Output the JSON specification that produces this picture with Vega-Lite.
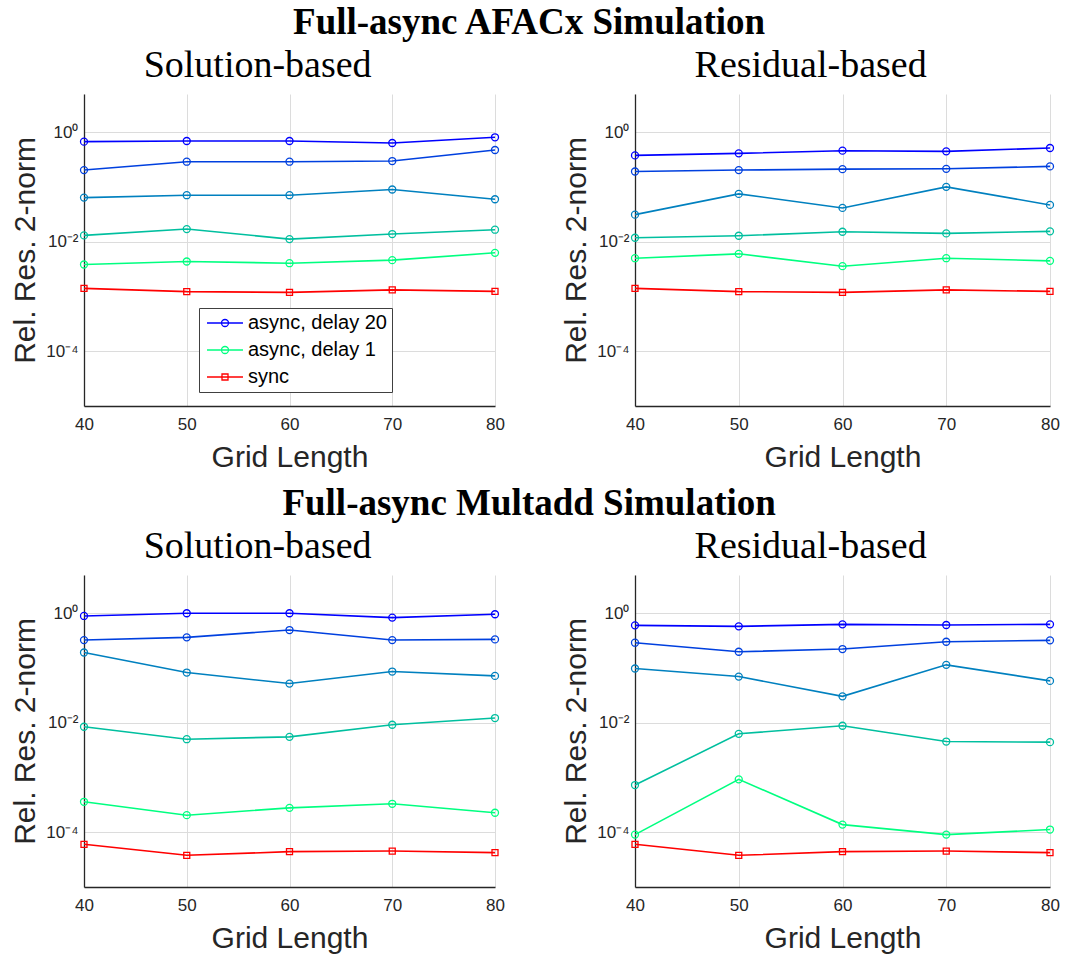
{
"$schema": "https://vega.github.io/schema/vega-lite/v6.json",
"padding": {"left": 10, "top": 4, "right": 5, "bottom": 5},
"datasets": {
"d": [
{"p":"AS","s":"async, delay 20","g":40,"v":0.674},{"p":"AS","s":"async, delay 20","g":50,"v":0.693},{"p":"AS","s":"async, delay 20","g":60,"v":0.693},{"p":"AS","s":"async, delay 20","g":70,"v":0.637},{"p":"AS","s":"async, delay 20","g":80,"v":0.81},
{"p":"AS","s":"async, delay 10","g":40,"v":0.204},{"p":"AS","s":"async, delay 10","g":50,"v":0.29},{"p":"AS","s":"async, delay 10","g":60,"v":0.29},{"p":"AS","s":"async, delay 10","g":70,"v":0.298},{"p":"AS","s":"async, delay 10","g":80,"v":0.474},
{"p":"AS","s":"async, delay 5","g":40,"v":0.0641},{"p":"AS","s":"async, delay 5","g":50,"v":0.0708},{"p":"AS","s":"async, delay 5","g":60,"v":0.0708},{"p":"AS","s":"async, delay 5","g":70,"v":0.09},{"p":"AS","s":"async, delay 5","g":80,"v":0.0598},
{"p":"AS","s":"async, delay 2","g":40,"v":0.01306},{"p":"AS","s":"async, delay 2","g":50,"v":0.01706},{"p":"AS","s":"async, delay 2","g":60,"v":0.01119},{"p":"AS","s":"async, delay 2","g":70,"v":0.01383},{"p":"AS","s":"async, delay 2","g":80,"v":0.0166},
{"p":"AS","s":"async, delay 1","g":40,"v":0.00384},{"p":"AS","s":"async, delay 1","g":50,"v":0.00436},{"p":"AS","s":"async, delay 1","g":60,"v":0.00406},{"p":"AS","s":"async, delay 1","g":70,"v":0.00461},{"p":"AS","s":"async, delay 1","g":80,"v":0.00628},
{"p":"AS","s":"sync","g":40,"v":0.00141},{"p":"AS","s":"sync","g":50,"v":0.00123},{"p":"AS","s":"sync","g":60,"v":0.00119},{"p":"AS","s":"sync","g":70,"v":0.00132},{"p":"AS","s":"sync","g":80,"v":0.00124},
{"p":"AR","s":"async, delay 20","g":40,"v":0.378},{"p":"AR","s":"async, delay 20","g":50,"v":0.412},{"p":"AR","s":"async, delay 20","g":60,"v":0.461},{"p":"AR","s":"async, delay 20","g":70,"v":0.448},{"p":"AR","s":"async, delay 20","g":80,"v":0.516},
{"p":"AR","s":"async, delay 10","g":40,"v":0.192},{"p":"AR","s":"async, delay 10","g":50,"v":0.204},{"p":"AR","s":"async, delay 10","g":60,"v":0.212},{"p":"AR","s":"async, delay 10","g":70,"v":0.215},{"p":"AR","s":"async, delay 10","g":80,"v":0.238},
{"p":"AR","s":"async, delay 5","g":40,"v":0.0313},{"p":"AR","s":"async, delay 5","g":50,"v":0.0749},{"p":"AR","s":"async, delay 5","g":60,"v":0.0415},{"p":"AR","s":"async, delay 5","g":70,"v":0.1007},{"p":"AR","s":"async, delay 5","g":80,"v":0.0471},
{"p":"AR","s":"async, delay 2","g":40,"v":0.01184},{"p":"AR","s":"async, delay 2","g":50,"v":0.01288},{"p":"AR","s":"async, delay 2","g":60,"v":0.01525},{"p":"AR","s":"async, delay 2","g":70,"v":0.01422},{"p":"AR","s":"async, delay 2","g":80,"v":0.01548},
{"p":"AR","s":"async, delay 1","g":40,"v":0.00501},{"p":"AR","s":"async, delay 1","g":50,"v":0.00602},{"p":"AR","s":"async, delay 1","g":60,"v":0.00358},{"p":"AR","s":"async, delay 1","g":70,"v":0.00501},{"p":"AR","s":"async, delay 1","g":80,"v":0.00448},
{"p":"AR","s":"sync","g":40,"v":0.00141},{"p":"AR","s":"sync","g":50,"v":0.00123},{"p":"AR","s":"sync","g":60,"v":0.00119},{"p":"AR","s":"sync","g":70,"v":0.00132},{"p":"AR","s":"sync","g":80,"v":0.00124},
{"p":"MS","s":"async, delay 20","g":40,"v":0.893},{"p":"MS","s":"async, delay 20","g":50,"v":1.0},{"p":"MS","s":"async, delay 20","g":60,"v":1.0},{"p":"MS","s":"async, delay 20","g":70,"v":0.833},{"p":"MS","s":"async, delay 20","g":80,"v":0.959},
{"p":"MS","s":"async, delay 10","g":40,"v":0.324},{"p":"MS","s":"async, delay 10","g":50,"v":0.363},{"p":"MS","s":"async, delay 10","g":60,"v":0.494},{"p":"MS","s":"async, delay 10","g":70,"v":0.324},{"p":"MS","s":"async, delay 10","g":80,"v":0.333},
{"p":"MS","s":"async, delay 5","g":40,"v":0.192},{"p":"MS","s":"async, delay 5","g":50,"v":0.0827},{"p":"MS","s":"async, delay 5","g":60,"v":0.052},{"p":"MS","s":"async, delay 5","g":70,"v":0.0862},{"p":"MS","s":"async, delay 5","g":80,"v":0.0718},
{"p":"MS","s":"async, delay 2","g":40,"v":0.00845},{"p":"MS","s":"async, delay 2","g":50,"v":0.00501},{"p":"MS","s":"async, delay 2","g":60,"v":0.00553},{"p":"MS","s":"async, delay 2","g":70,"v":0.00919},{"p":"MS","s":"async, delay 2","g":80,"v":0.01219},
{"p":"MS","s":"async, delay 1","g":40,"v":0.00036},{"p":"MS","s":"async, delay 1","g":50,"v":0.000205},{"p":"MS","s":"async, delay 1","g":60,"v":0.000279},{"p":"MS","s":"async, delay 1","g":70,"v":0.000331},{"p":"MS","s":"async, delay 1","g":80,"v":0.000227},
{"p":"MS","s":"sync","g":40,"v":0.0000603},{"p":"MS","s":"sync","g":50,"v":0.0000379},{"p":"MS","s":"sync","g":60,"v":0.0000442},{"p":"MS","s":"sync","g":70,"v":0.0000454},{"p":"MS","s":"sync","g":80,"v":0.0000424},
{"p":"MR","s":"async, delay 20","g":40,"v":0.602},{"p":"MR","s":"async, delay 20","g":50,"v":0.577},{"p":"MR","s":"async, delay 20","g":60,"v":0.628},{"p":"MR","s":"async, delay 20","g":70,"v":0.611},{"p":"MR","s":"async, delay 20","g":80,"v":0.628},
{"p":"MR","s":"async, delay 10","g":40,"v":0.29},{"p":"MR","s":"async, delay 10","g":50,"v":0.198},{"p":"MR","s":"async, delay 10","g":60,"v":0.222},{"p":"MR","s":"async, delay 10","g":70,"v":0.302},{"p":"MR","s":"async, delay 10","g":80,"v":0.32},
{"p":"MR","s":"async, delay 5","g":40,"v":0.0979},{"p":"MR","s":"async, delay 5","g":50,"v":0.0698},{"p":"MR","s":"async, delay 5","g":60,"v":0.0304},{"p":"MR","s":"async, delay 5","g":70,"v":0.1143},{"p":"MR","s":"async, delay 5","g":80,"v":0.0582},
{"p":"MR","s":"async, delay 2","g":40,"v":0.000728},{"p":"MR","s":"async, delay 2","g":50,"v":0.00628},{"p":"MR","s":"async, delay 2","g":60,"v":0.00881},{"p":"MR","s":"async, delay 2","g":70,"v":0.00454},{"p":"MR","s":"async, delay 2","g":80,"v":0.00442},
{"p":"MR","s":"async, delay 1","g":40,"v":0.0000906},{"p":"MR","s":"async, delay 1","g":50,"v":0.000925},{"p":"MR","s":"async, delay 1","g":60,"v":0.000138},{"p":"MR","s":"async, delay 1","g":70,"v":0.0000906},{"p":"MR","s":"async, delay 1","g":80,"v":0.000112},
{"p":"MR","s":"sync","g":40,"v":0.0000603},{"p":"MR","s":"sync","g":50,"v":0.0000379},{"p":"MR","s":"sync","g":60,"v":0.0000442},{"p":"MR","s":"sync","g":70,"v":0.0000454},{"p":"MR","s":"sync","g":80,"v":0.0000424}
]
},
"data": {"name": "d"},
"spacing": 13,
"resolve": {"legend": {"color": "independent"}},
"vconcat": [
{
"title": {"text": "Full-async AFACx Simulation", "fontSize": 37, "fontWeight": "bold", "offset": 5, "anchor": "middle", "dx": -6},
"spacing": 56,
"resolve": {"legend": {"color": "independent"}},
"hconcat": [
{
"width": 411, "height": 312,
"title": {"text": "Solution-based"},
"transform": [{"filter": "datum.p == 'AS'"}],
"encoding": {
"x": {"field": "g", "type": "quantitative", "scale": {"domain": [40, 80], "nice": false, "zero": false}, "axis": {"values": [40, 50, 60, 70, 80], "title": "Grid Length"}},
"y": {"field": "v", "type": "quantitative", "scale": {"type": "log", "domain": [0.00001, 5], "nice": false}, "axis": {"values": [0.0001, 0.01, 1], "labelExpr": "datum.value > 0.5 ? '10⁰' : datum.value > 0.001 ? '10⁻²' : '10⁻⁴'", "title": "Rel. Res. 2-norm"}},
"color": {"field": "s", "type": "nominal", "scale": {"domain": ["async, delay 20", "async, delay 10", "async, delay 5", "async, delay 2", "async, delay 1", "sync"], "range": ["#0000FF", "#0040DF", "#0080BF", "#00BF9F", "#00FF80", "#FF0000"]}, "legend": null}
},
"layer": [
{"mark": {"type": "line", "strokeWidth": 1.6}, "encoding": {"color": {"field": "s", "type": "nominal", "legend": {"title": null, "orient": "none", "legendX": 115, "legendY": 214, "values": ["async, delay 20", "async, delay 1", "sync"], "symbolType": "M-2.57,0L2.57,0M-0.5,0A0.5,0.5,0,1,0,0.5,0A0.5,0.5,0,1,0,-0.5,0", "symbolSize": 196, "symbolOffset": 11, "symbolStrokeWidth": 1.3, "symbolFillColor": "transparent", "labelFont": "Liberation Sans", "labelFontSize": 20, "labelColor": "#000000", "labelOffset": 13, "rowPadding": 7, "padding": 5, "strokeColor": "#404040", "fillColor": "#ffffff", "encode": {"symbols": {"update": {"shape": {"signal": "datum.value == 'sync' ? 'M-2.57,0L2.57,0M-0.43,-0.43L0.43,-0.43L0.43,0.43L-0.43,0.43Z' : 'M-2.57,0L2.57,0M-0.5,0A0.5,0.5,0,1,0,0.5,0A0.5,0.5,0,1,0,-0.5,0'"}}}}}}}},
{"transform": [{"filter": "datum.s != 'sync'"}], "mark": {"type": "point", "shape": "circle", "filled": false, "size": 49, "strokeWidth": 1.3, "opacity": 1}, "encoding": {}},
{"transform": [{"filter": "datum.s == 'sync'"}], "mark": {"type": "point", "shape": "square", "filled": false, "size": 36, "strokeWidth": 1.3, "opacity": 1}, "encoding": {}}
]
},
{
"width": 415, "height": 312,
"title": {"text": "Residual-based"},
"transform": [{"filter": "datum.p == 'AR'"}],
"encoding": {
"x": {"field": "g", "type": "quantitative", "scale": {"domain": [40, 80], "nice": false, "zero": false}, "axis": {"values": [40, 50, 60, 70, 80], "title": "Grid Length"}},
"y": {"field": "v", "type": "quantitative", "scale": {"type": "log", "domain": [0.00001, 5], "nice": false}, "axis": {"values": [0.0001, 0.01, 1], "labelExpr": "datum.value > 0.5 ? '10⁰' : datum.value > 0.001 ? '10⁻²' : '10⁻⁴'", "title": "Rel. Res. 2-norm"}},
"color": {"field": "s", "type": "nominal", "scale": {"domain": ["async, delay 20", "async, delay 10", "async, delay 5", "async, delay 2", "async, delay 1", "sync"], "range": ["#0000FF", "#0040DF", "#0080BF", "#00BF9F", "#00FF80", "#FF0000"]}, "legend": null}
},
"layer": [
{"mark": {"type": "line", "strokeWidth": 1.6}, "encoding": {}},
{"transform": [{"filter": "datum.s != 'sync'"}], "mark": {"type": "point", "shape": "circle", "filled": false, "size": 49, "strokeWidth": 1.3, "opacity": 1}, "encoding": {}},
{"transform": [{"filter": "datum.s == 'sync'"}], "mark": {"type": "point", "shape": "square", "filled": false, "size": 36, "strokeWidth": 1.3, "opacity": 1}, "encoding": {}}
]
}
]
},
{
"title": {"text": "Full-async Multadd Simulation", "fontSize": 37, "fontWeight": "bold", "offset": 5, "anchor": "middle", "dx": -6},
"spacing": 56,
"resolve": {"legend": {"color": "independent"}},
"hconcat": [
{
"width": 411, "height": 312,
"title": {"text": "Solution-based"},
"transform": [{"filter": "datum.p == 'MS'"}],
"encoding": {
"x": {"field": "g", "type": "quantitative", "scale": {"domain": [40, 80], "nice": false, "zero": false}, "axis": {"values": [40, 50, 60, 70, 80], "title": "Grid Length"}},
"y": {"field": "v", "type": "quantitative", "scale": {"type": "log", "domain": [0.00001, 5], "nice": false}, "axis": {"values": [0.0001, 0.01, 1], "labelExpr": "datum.value > 0.5 ? '10⁰' : datum.value > 0.001 ? '10⁻²' : '10⁻⁴'", "title": "Rel. Res. 2-norm"}},
"color": {"field": "s", "type": "nominal", "scale": {"domain": ["async, delay 20", "async, delay 10", "async, delay 5", "async, delay 2", "async, delay 1", "sync"], "range": ["#0000FF", "#0040DF", "#0080BF", "#00BF9F", "#00FF80", "#FF0000"]}, "legend": null}
},
"layer": [
{"mark": {"type": "line", "strokeWidth": 1.6}, "encoding": {}},
{"transform": [{"filter": "datum.s != 'sync'"}], "mark": {"type": "point", "shape": "circle", "filled": false, "size": 49, "strokeWidth": 1.3, "opacity": 1}, "encoding": {}},
{"transform": [{"filter": "datum.s == 'sync'"}], "mark": {"type": "point", "shape": "square", "filled": false, "size": 36, "strokeWidth": 1.3, "opacity": 1}, "encoding": {}}
]
},
{
"width": 415, "height": 312,
"title": {"text": "Residual-based"},
"transform": [{"filter": "datum.p == 'MR'"}],
"encoding": {
"x": {"field": "g", "type": "quantitative", "scale": {"domain": [40, 80], "nice": false, "zero": false}, "axis": {"values": [40, 50, 60, 70, 80], "title": "Grid Length"}},
"y": {"field": "v", "type": "quantitative", "scale": {"type": "log", "domain": [0.00001, 5], "nice": false}, "axis": {"values": [0.0001, 0.01, 1], "labelExpr": "datum.value > 0.5 ? '10⁰' : datum.value > 0.001 ? '10⁻²' : '10⁻⁴'", "title": "Rel. Res. 2-norm"}},
"color": {"field": "s", "type": "nominal", "scale": {"domain": ["async, delay 20", "async, delay 10", "async, delay 5", "async, delay 2", "async, delay 1", "sync"], "range": ["#0000FF", "#0040DF", "#0080BF", "#00BF9F", "#00FF80", "#FF0000"]}, "legend": null}
},
"layer": [
{"mark": {"type": "line", "strokeWidth": 1.6}, "encoding": {}},
{"transform": [{"filter": "datum.s != 'sync'"}], "mark": {"type": "point", "shape": "circle", "filled": false, "size": 49, "strokeWidth": 1.3, "opacity": 1}, "encoding": {}},
{"transform": [{"filter": "datum.s == 'sync'"}], "mark": {"type": "point", "shape": "square", "filled": false, "size": 36, "strokeWidth": 1.3, "opacity": 1}, "encoding": {}}
]
}
]
}
],
"config": {
"font": "Liberation Sans",
"background": "#ffffff",
"view": {"stroke": null},
"axis": {"labelFont": "Liberation Sans", "labelFontSize": 17, "labelColor": "#262626", "titleFont": "Liberation Sans", "titleFontSize": 30, "titleFontWeight": "normal", "titleColor": "#262626", "domainColor": "#262626", "domainWidth": 1.3, "gridColor": "#dcdcdc", "gridWidth": 1, "grid": true, "ticks": false},
"axisX": {"labelPadding": 10, "titlePadding": 10, "labelFlush": false},
"axisY": {"labelPadding": 6, "titlePadding": 5},
"title": {"font": "Liberation Serif", "fontSize": 38, "fontWeight": "normal", "color": "#000000", "anchor": "middle", "frame": "bounds", "offset": 9}
}
}
